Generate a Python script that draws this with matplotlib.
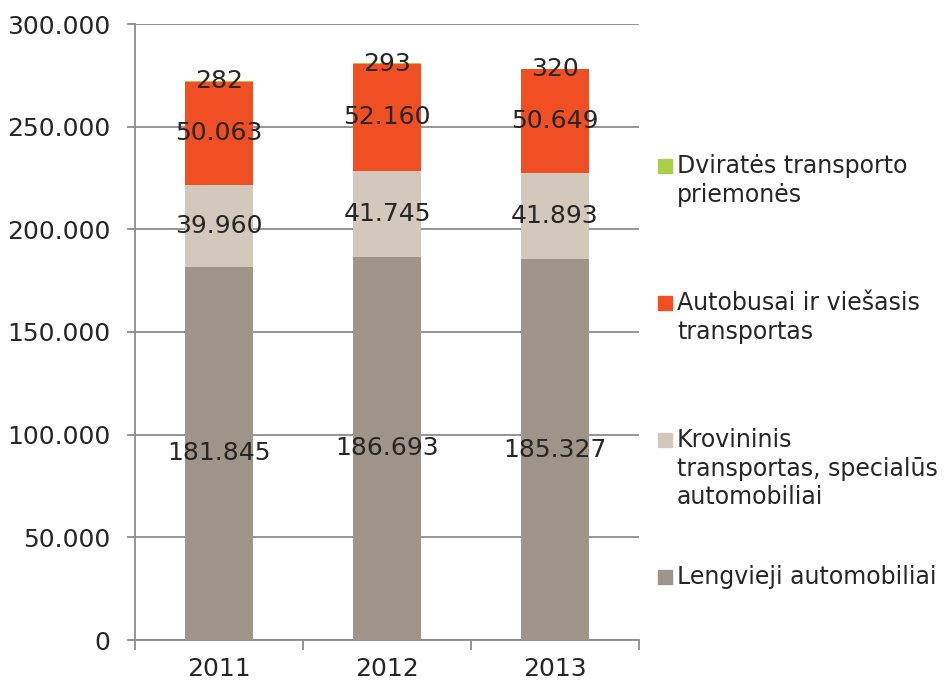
import matplotlib
matplotlib.use("Agg")
import matplotlib.pyplot as plt
from matplotlib.patches import Rectangle
import numpy as np

years = ["2011", "2012", "2013"]
lengvieji = [181845, 186693, 185327]
krovininis = [39960, 41745, 41893]
autobusai = [50063, 52160, 50649]
dviratės = [282, 293, 320]

series_names = ["Lengvieji automobiliai",
                "Krovininis\ntransportas, specialūs\nautomobiliai",
                "Autobusai ir viešasis\ntransportas",
                "Dviratės transporto\npriemonės"]
series_vals = [lengvieji, krovininis, autobusai, dviratės]
colors = ["#9E948A", "#D3C8BC", "#F04E23", "#A8CF45"]
yticks = [0, 50000, 100000, 150000, 200000, 250000, 300000]

txt = "#262626"
gridc = "#8C8C8C"
fs = 18
lfs = 17

plt.rcParams['font.family'] = ['DejaVu Sans']
fig = plt.figure(figsize=(9.46, 6.84), dpi=100)
ax = fig.add_axes([135/946, 1-640/684, 504/946, 616/684])

x = np.arange(len(years))
bottom = np.zeros(len(years))
for vals, c in zip(series_vals, colors):
    v = np.array(vals, dtype=float)
    ax.bar(x, v, 0.4, bottom=bottom, color=c, zorder=3)
    for xi, b, vi in zip(x, bottom, v):
        ax.text(xi, b + vi/2, f"{int(vi):,}".replace(",", "."), ha="center", va="center",
                fontsize=fs, color=txt, zorder=4)
    bottom += v

ax.set_xlim(-0.5, 2.5)
ax.set_ylim(0, 300000)
ax.set_yticks(yticks)
ax.set_yticklabels([f"{t:,}".replace(",", ".") for t in yticks], fontsize=fs, color=txt)
ax.set_xticks(x)
ax.set_xticklabels(years, fontsize=fs, color=txt)
ax.set_xticks([-0.5, 0.5, 1.5, 2.5], minor=True)
ax.tick_params(axis="x", which="major", length=0, pad=12)
ax.tick_params(axis="x", which="minor", length=7, color=gridc, width=1.3)
ax.tick_params(axis="y", length=6, color=gridc, width=1.3, pad=12)
ax.yaxis.grid(True, color=gridc, linewidth=1.3, zorder=0)
ax.set_axisbelow(True)
for s in ["top", "right"]:
    ax.spines[s].set_visible(False)
for s in ["left", "bottom"]:
    ax.spines[s].set_color(gridc)
    ax.spines[s].set_linewidth(1.3)

# legend (top entry first)
leg_y = [166, 303, 440, 577]
for name, c, yy in zip(series_names[::-1], colors[::-1], leg_y):
    fig.patches.append(Rectangle((658/946, 1-(yy+7)/684), 14/946, 14/684,
                                 transform=fig.transFigure, color=c))
    fig.text(677/946, 1-(yy-12)/684, name, fontsize=lfs, color=txt, va="top", ha="left",
             linespacing=1.25)

fig.savefig("out.png", dpi=100)
